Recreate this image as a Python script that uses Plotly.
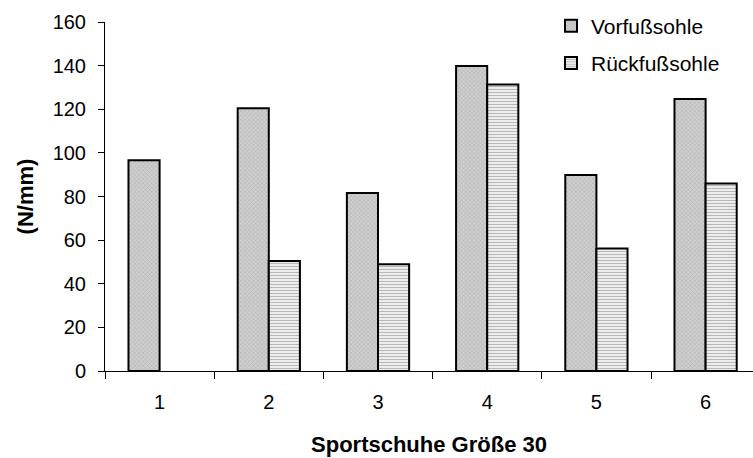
import plotly.graph_objects as go

categories = ["1", "2", "3", "4", "5", "6"]
vorfuss = [96.6, 120.5, 81.6, 139.8, 89.9, 124.7]
rueckfuss = [None, 50.4, 48.9, 131.4, 56.2, 86.0]
series_names = ["Vorfußsohle", "Rückfußsohle"]
y_ticks = [0, 20, 40, 60, 80, 100, 120, 140, 160]

FONT = "Liberation Sans, Arial, sans-serif"

fig = go.Figure()
fig.add_trace(go.Bar(
    x=categories, y=vorfuss, name=series_names[0], legendgroup="a",
    marker=dict(color="#c8c8c8", line=dict(color="black", width=2),
                pattern=dict(shape="x", fgcolor="#888888", bgcolor="#cfcfcf", size=3, solidity=0.3)),
))
fig.add_trace(go.Bar(
    x=categories, y=rueckfuss, name=series_names[1], legendgroup="b",
    marker=dict(color="white", line=dict(color="black", width=2),
                pattern=dict(shape="-", fgcolor="#707070", bgcolor="white", size=3, solidity=0.5)),
))

fig.update_layout(
    width=753, height=458,
    margin=dict(l=105, r=0, t=22, b=87),
    paper_bgcolor="white", plot_bgcolor="white",
    barmode="group", bargap=0.43, bargroupgap=0,
    font=dict(family=FONT, size=20, color="black"),
    showlegend=True,
    legend=dict(x=(551 - 105) / 648, xanchor="left", y=1.047, yanchor="top",
                font=dict(size=21), tracegroupgap=7, bgcolor="rgba(0,0,0,0)",
                itemclick=False),
    xaxis=dict(
        type="category", range=[-0.5, 5.434], tickson="boundaries",
        ticks="outside", ticklen=7, tickcolor="black", tickwidth=1,
        showline=True, linecolor="black", linewidth=1, showgrid=False,
        ticklabelstandoff=13,
        title=dict(text="<b>Sportschuhe Größe 30</b>", font=dict(size=22), standoff=24),
        automargin=False,
    ),
    yaxis=dict(
        range=[0, 160], tickvals=y_ticks, ticks="outside", ticklen=6,
        tickcolor="black", showline=True, linecolor="black", linewidth=1,
        showgrid=False, zeroline=False, ticklabelstandoff=8,
        title=dict(text="<b>(N/mm)</b>", font=dict(size=22), standoff=12),
        automargin=False,
    ),
)

fig.write_html("out.html")
